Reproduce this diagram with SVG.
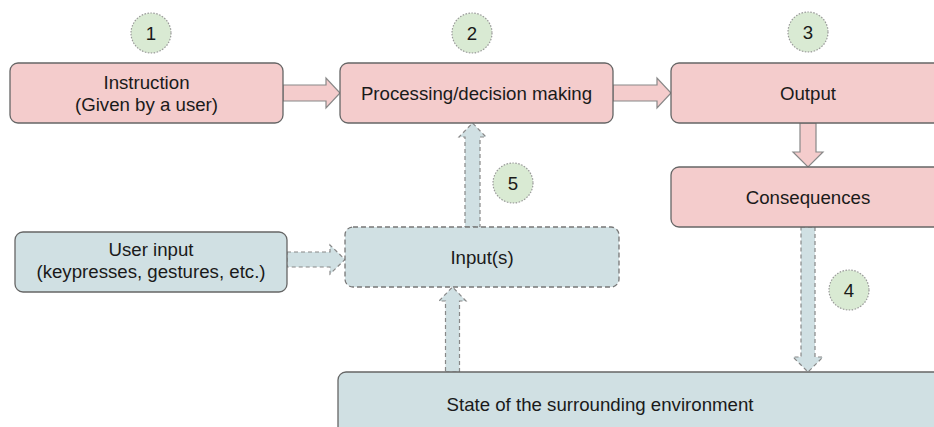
<svg xmlns="http://www.w3.org/2000/svg" width="934" height="427" viewBox="0 0 934 427">
<defs>
<style>
text{font-family:"Liberation Sans",Arial,sans-serif;font-size:18.67px;fill:#1a1a1a;text-anchor:middle}
.pink{fill:#f4cccc;stroke:#666;stroke-width:1.3}
.blue{fill:#d0e0e3;stroke:#666;stroke-width:1.3}
.blued{fill:#d0e0e3;stroke:#777;stroke-width:1.3;stroke-dasharray:5 3}
.parrow{fill:#f4cccc;stroke:#888;stroke-width:1.2}
.barrow{fill:#d0e0e3;stroke:#888;stroke-width:1.2;stroke-dasharray:4 3}
.num{fill:#d9ead3;stroke:#999;stroke-width:1.2;stroke-dasharray:1.5 1.5}
</style>
</defs>
<rect width="934" height="427" fill="#fff"/>
<g id="connectors">
<polygon class="parrow" points="283,85 326,85 326,78 340,93 326,108 326,101 283,101"/>
<polygon class="parrow" points="613,85 657,85 657,78 671,93 657,108 657,101 613,101"/>
<polygon class="parrow" points="800,123 816,123 816,152 823,152 808,167 793,152 800,152"/>
<polygon class="barrow" points="287,252 330,252 330,245 345,259.5 330,274 330,267 287,267"/>
<polygon class="barrow" points="465,227 480,227 480,137 486,137 472.5,123 459,137 465,137"/>
<polygon class="barrow" points="445.5,372 459.5,372 459.5,301 466,301 452.5,287 439,301 445.5,301"/>
<polygon class="barrow" points="801,227 815,227 815,357 823,357 808,372 793,357 801,357"/>
</g>
<g id="n1"><circle class="num" cx="151" cy="33" r="20"/><text x="151" y="40">1</text></g>
<g id="n2"><circle class="num" cx="472" cy="33" r="20"/><text x="472" y="40">2</text></g>
<g id="n3"><circle class="num" cx="808" cy="32" r="20"/><text x="808" y="39">3</text></g>
<g id="n4"><circle class="num" cx="849" cy="290" r="20"/><text x="849" y="297">4</text></g>
<g id="n5"><circle class="num" cx="513" cy="183" r="20"/><text x="513" y="190">5</text></g>
<g id="instruction"><rect class="pink" x="10" y="63" width="273" height="60" rx="8"/><text x="146.5" y="89">Instruction</text><text x="146.5" y="111">(Given by a user)</text></g>
<g id="processing"><rect class="pink" x="340" y="63" width="273" height="60" rx="8"/><text x="476.5" y="100">Processing/decision making</text></g>
<g id="output"><rect class="pink" x="671" y="63" width="274" height="60" rx="8"/><text x="808" y="100">Output</text></g>
<g id="consequences"><rect class="pink" x="671" y="167" width="274" height="60" rx="8"/><text x="808" y="204">Consequences</text></g>
<g id="userinput"><rect class="blue" x="15" y="232" width="272" height="60" rx="8"/><text x="151" y="256">User input</text><text x="151" y="278">(keypresses, gestures, etc.)</text></g>
<g id="inputs"><rect class="blued" x="345" y="227" width="274" height="60" rx="8"/><text x="482" y="264">Input(s)</text></g>
<g id="state"><rect class="blue" x="338" y="372" width="700" height="80" rx="8"/><text x="600" y="411">State of the surrounding environment</text></g>
</svg>
